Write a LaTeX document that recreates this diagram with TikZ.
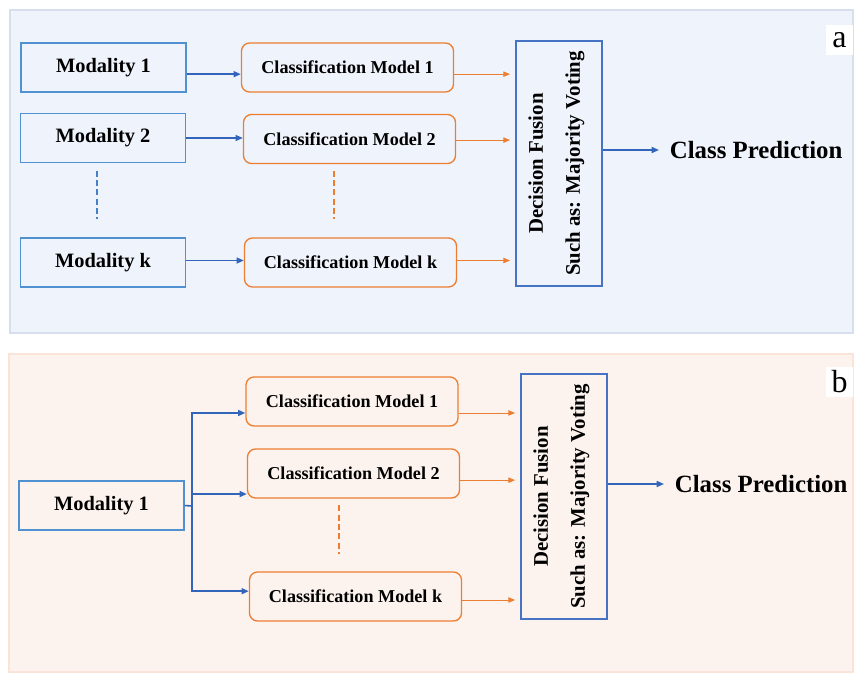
\documentclass[tikz,border=0pt]{standalone}
\usepackage{fontspec}
\setmainfont{Liberation Serif}
\usetikzlibrary{arrows.meta}

\definecolor{modblue}{RGB}{80,145,210}
\definecolor{fuseblue}{RGB}{70,115,195}
\definecolor{arrblue}{RGB}{50,100,185}
\definecolor{clsorange}{RGB}{237,125,49}
\definecolor{panelAfill}{RGB}{239,243,251}
\definecolor{panelAline}{RGB}{215,222,238}
\definecolor{panelBfill}{RGB}{253,243,238}
\definecolor{panelBline}{RGB}{250,228,216}

\begin{document}
\begin{tikzpicture}[x=0.75pt, y=-0.75pt,
        modbox/.style={draw=modblue, line width=0.9pt, minimum width=123.75pt, minimum height=36.75pt,
            inner sep=0pt, font=\fontsize{15.3}{18}\selectfont\bfseries},
        clsbox/.style={draw=clsorange, line width=1pt, rounded corners=6pt, minimum width=159pt,
            minimum height=36.75pt, inner sep=0pt, font=\fontsize{13.6}{16}\selectfont\bfseries},
        fusebox/.style={draw=fuseblue, line width=0.9pt, minimum width=64.5pt, minimum height=183.75pt, inner sep=0pt},
        fusetext/.style={rotate=90, align=center, font=\fontsize{15.6}{27.75}\selectfont\bfseries},
        predtext/.style={anchor=west, inner xsep=8pt, inner ysep=2pt, font=\fontsize{18.6}{22}\selectfont\bfseries},
        tag/.style={fill=white, minimum width=20pt, minimum height=22.5pt, inner sep=0pt, font=\fontsize{24}{24}\selectfont},
        barrow/.style={draw=arrblue, line width=1.2pt, -{Triangle[length=5.5pt,width=4.5pt]}},
        bline/.style={draw=arrblue, line width=1.2pt},
        oarrow/.style={draw=clsorange, line width=0.7pt, shorten >=4pt, -{Triangle[length=5pt,width=4pt]}},
        bdash/.style={draw=modblue!60!arrblue, line width=1.2pt, dash pattern=on 4.5pt off 2.5pt},
        odash/.style={draw=clsorange, line width=1.2pt, dash pattern=on 4.5pt off 2.5pt}]

    \useasboundingbox (0,0) rectangle (855,674);

    % one classifier per modality
    \begin{scope}
        \draw[fill=panelAfill, draw=panelAline, line width=0.8pt] (10,10) rectangle (853,333);
        \node[tag] (tagA) at (839.5,40) {a};

        \node[modbox] (mod1a) at (103.5,67.5) {Modality 1};
        \node[modbox] (mod2a) at (103,138) {Modality 2};
        \node[modbox] (modka) at (103,262.5) {Modality k};

        \node[clsbox] (cm1a) at (347.5,67.5) {Classification Model 1};
        \node[clsbox] (cm2a) at (349.5,139) {Classification Model 2};
        \node[clsbox] (cmka) at (350.5,262.5) {Classification Model k};

        \node[fusebox] (dfa) at (559,163.5) {};
        \node[fusetext] (dfa-text) at ([xshift=-2pt]dfa.center) {Decision Fusion\\Such as: Majority Voting};

        \node[predtext] (preda) at (659,150) {Class Prediction};

        \draw[barrow] ([yshift=-5pt]mod1a.east) -- ([yshift=-5pt]cm1a.west);
        \draw[barrow] (mod2a.east) -- (mod2a.east -| cm2a.west);
        \draw[barrow] ([yshift=1.5pt]modka.east) -- ([yshift=1.5pt]modka.east -| cmka.west);

        \draw[bdash, shorten <=5.6pt, shorten >=13.5pt] ([xshift=-4.5pt]mod2a.south) -- ([xshift=-4.5pt]mod2a.south |- modka.north);
        \draw[odash, shorten <=4.9pt, shorten >=13.5pt] ([xshift=-11.6pt]cm2a.south) -- ([xshift=-11.6pt]cm2a.south |- cmka.north);

        \draw[oarrow] ([yshift=-5pt]cm1a.east) -- ([yshift=-5pt]cm1a.east -| dfa.west);
        \draw[oarrow] ([yshift=-0.8pt]cm2a.east) -- ([yshift=-0.8pt]cm2a.east -| dfa.west);
        \draw[oarrow] ([yshift=1.5pt]cmka.east) -- ([yshift=1.5pt]cmka.east -| dfa.west);

        \draw[barrow] (dfa.east |- preda.west) -- (preda.west);
    \end{scope}

    % several classifiers on a single modality
    \begin{scope}
        \draw[fill=panelBfill, draw=panelBline, line width=0.8pt] (9,354) rectangle (853,672);
        \node[tag] (tagB) at (839.5,382) {b};

        \node[modbox] (mod1b) at (101.5,505.5) {Modality 1};

        \node[clsbox] (cm1b) at (352,401.5) {Classification Model 1};
        \node[clsbox] (cm2b) at (353.5,473.5) {Classification Model 2};
        \node[clsbox] (cmkb) at (355.5,596.5) {Classification Model k};

        \node[fusebox] (dfb) at (564,496.5) {};
        \node[fusetext] (dfb-text) at ([xshift=-2pt]dfb.center) {Decision Fusion\\Such as: Majority Voting};

        \node[predtext] (predb) at (664,484) {Class Prediction};

        \coordinate (fork) at (192,506);
        \draw[bline] (mod1b.east) -- (fork);
        \draw[barrow] (fork) |- ([yshift=-8.6pt]cm1b.west);
        \draw[barrow] (fork) |- ([yshift=-15.4pt]cm2b.west);
        \draw[barrow] (fork) |- ([yshift=4pt]cmkb.west);

        \draw[odash, shorten <=5pt, shorten >=12.75pt] ([xshift=-10.9pt]cm2b.south) -- ([xshift=-10.9pt]cm2b.south |- cmkb.north);

        \draw[oarrow] ([yshift=-8.6pt]cm1b.east) -- ([yshift=-8.6pt]cm1b.east -| dfb.west);
        \draw[oarrow] ([yshift=-5pt]cm2b.east) -- ([yshift=-5pt]cm2b.east -| dfb.west);
        \draw[oarrow] ([yshift=-2.6pt]cmkb.east) -- ([yshift=-2.6pt]cmkb.east -| dfb.west);

        \draw[barrow] (dfb.east |- predb.west) -- (predb.west);
    \end{scope}
\end{tikzpicture}
\end{document}
